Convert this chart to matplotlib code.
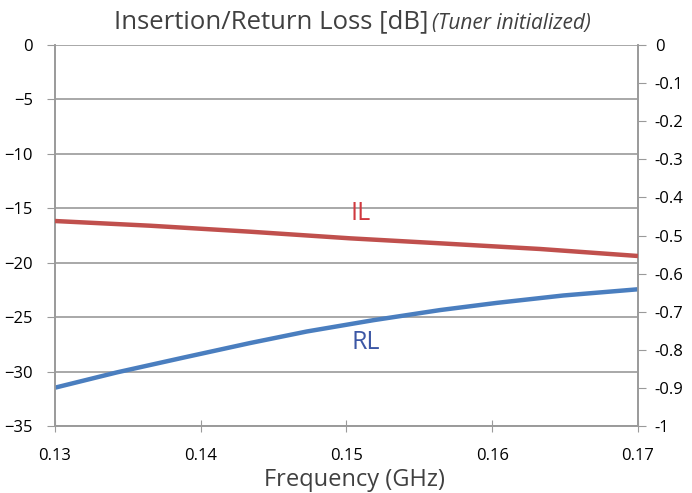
import matplotlib.pyplot as plt
from matplotlib.ticker import MultipleLocator

# data
freq_il = [0.13, 0.13652, 0.14338, 0.15024, 0.15642, 0.16328, 0.17]
il = [-0.462, -0.4743, -0.4900, -0.5074, -0.5205, -0.5354, -0.5538]
freq_rl = [0.13, 0.13423, 0.1388, 0.14338, 0.14727, 0.15184, 0.15642, 0.16031, 0.16488, 0.17]
rl = [-31.48, -30.08, -28.72, -27.38, -26.32, -25.28, -24.35, -23.69, -23.01, -22.44]
x_ticks = [0.13, 0.14, 0.15, 0.16, 0.17]
il_ticks = [-1, -0.9, -0.8, -0.7, -0.6, -0.5, -0.4, -0.3, -0.2, -0.1, 0]
il_labels = ['-1', '-0.9', '-0.8', '-0.7', '-0.6', '-0.5', '-0.4', '-0.3', '-0.2', '-0.1', '0']

plt.rcParams['font.family'] = ['Open Sans', 'DejaVu Sans']
grey = '#9a9a9a'

fig = plt.figure(figsize=(6.92, 4.93), dpi=100)
ax = fig.add_axes([55 / 692, 1 - 426 / 493, 583 / 692, 381 / 493])
ax2 = ax.twinx()

ax.plot(freq_rl, rl, color='#4a7ebf', lw=3.2, solid_capstyle='butt', zorder=3)
ax2.plot(freq_il, il, color='#c0504d', lw=3.2, solid_capstyle='butt', zorder=3)

ax.set_xlim(0.13, 0.17)
ax.set_ylim(-35, 0)
ax2.set_ylim(-1, 0)
ax.set_xticks(x_ticks)
ax.set_xticklabels([str(t) for t in x_ticks])
ax.yaxis.set_major_locator(MultipleLocator(5))
ax2.set_yticks(il_ticks)
ax2.set_yticklabels(il_labels)

ax.grid(axis='y', color=grey, lw=1.2)
ax.set_axisbelow(True)
for a in (ax, ax2):
    a.spines['top'].set_visible(False)
    for s in ('left', 'right', 'bottom'):
        a.spines[s].set_color(grey)
        a.spines[s].set_linewidth(1.2)
ax.tick_params(axis='y', direction='out', length=6, color=grey, labelsize=12, pad=10)
ax.tick_params(axis='x', direction='inout', length=8, color=grey, labelsize=12, pad=12)
ax2.tick_params(axis='y', direction='out', length=6, color=grey, labelsize=12, pad=6)

fig.text(354.5 / 692, 1 - 480 / 493, 'Frequency (GHz)', fontsize=17, ha='center',
         va='center', color='#404040')
fig.text(428 / 692, 1 - 22 / 493, 'Insertion/Return Loss [dB]', fontsize=18.5, ha='right',
         va='center', color='#404040')
fig.text(432 / 692, 1 - 23 / 493, '(Tuner initialized)', fontsize=15, style='italic', ha='left',
         va='center', color='#404040')

ax.text(0.1510, -15.45, 'IL', color='#d0393f', fontsize=18, ha='center', va='center')
ax.text(0.15134, -27.3, 'RL', color='#3c57a5', fontsize=18, ha='center', va='center')

fig.savefig('out.png', dpi=100)
